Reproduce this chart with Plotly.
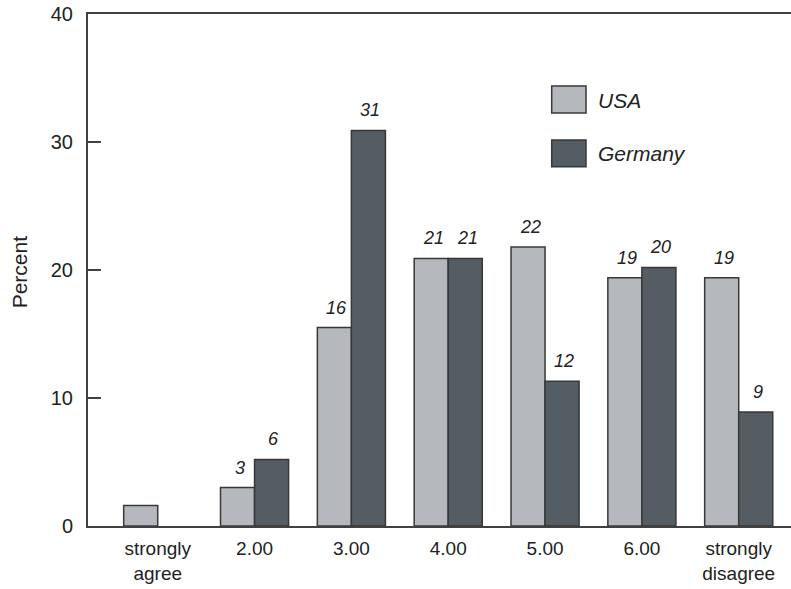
import plotly.graph_objects as go

categories = ["strongly<br>agree", "2.00", "3.00", "4.00", "5.00", "6.00", "strongly<br>disagree"]
usa_values = [1.6, 3.0, 15.5, 20.9, 21.8, 19.4, 19.4]
germany_values = [None, 5.2, 30.9, 20.9, 11.3, 20.2, 8.9]
usa_labels = ["", "3", "16", "21", "22", "19", "19"]
germany_labels = ["", "6", "31", "21", "12", "20", "9"]
y_ticks = [0, 10, 20, 30, 40]

USA_COLOR = "#b5b8bc"
GER_COLOR = "#535d63"
EDGE = "#383838"
FONT = "Liberation Sans, Arial, sans-serif"

fig = go.Figure()
fig.add_trace(go.Bar(name="USA", x=categories, y=usa_values,
                     marker=dict(color=USA_COLOR, line=dict(color=EDGE, width=1.5))))
fig.add_trace(go.Bar(name="Germany", x=categories, y=germany_values,
                     marker=dict(color=GER_COLOR, line=dict(color=EDGE, width=1.5))))

annotations = []
for i, (v, lab) in enumerate(zip(usa_values, usa_labels)):
    if lab:
        annotations.append(dict(x=i, y=v, text=lab, xref="x", yref="y", showarrow=False,
                                xanchor="center", yanchor="bottom", xshift=-15, yshift=8,
                                font=dict(family=FONT, size=18, color="#222", style="italic")))
for i, (v, lab) in enumerate(zip(germany_values, germany_labels)):
    if lab:
        annotations.append(dict(x=i, y=v, text=lab, xref="x", yref="y", showarrow=False,
                                xanchor="center", yanchor="bottom", xshift=19, yshift=8,
                                font=dict(family=FONT, size=18, color="#222", style="italic")))

# y-axis title
annotations.append(dict(x=-0.097, y=0.497, xref="paper", yref="paper", text="Percent",
                        textangle=-90, showarrow=False, xanchor="center", yanchor="middle",
                        font=dict(family=FONT, size=21, color="#222")))

# custom legend
shapes = []
legend_items = [("USA", USA_COLOR, 0.8066, 0.8594, 0.832),
                ("Germany", GER_COLOR, 0.7018, 0.7539, 0.7285)]
for name, col, y0, y1, yc in legend_items:
    shapes.append(dict(type="rect", xref="paper", yref="paper", x0=0.6596, x1=0.7084,
                       y0=y0, y1=y1, fillcolor=col, line=dict(color=EDGE, width=1.5)))
    annotations.append(dict(x=0.7226, y=yc, xref="paper", yref="paper", text=name,
                            showarrow=False, xanchor="left", yanchor="middle",
                            font=dict(family=FONT, size=21, color="#222", style="italic")))

fig.update_layout(
    width=791, height=589,
    margin=dict(l=88, r=0, t=14, b=63),
    paper_bgcolor="white", plot_bgcolor="white",
    barmode="group", bargap=0.297, bargroupgap=0,
    showlegend=False,
    font=dict(family=FONT, size=20, color="#222"),
    xaxis=dict(type="category", range=[-0.72, 6.54], showline=True, linecolor="#404040",
               linewidth=2, mirror=True, ticks="", showgrid=False, zeroline=False,
               tickfont=dict(family=FONT, size=19, color="#222"), ticklabelstandoff=4),
    yaxis=dict(range=[0, 40], tickvals=y_ticks, showline=True, linecolor="#404040",
               linewidth=2, ticks="inside", ticklen=13, tickwidth=2, tickcolor="#404040",
               showgrid=False, zeroline=False,
               tickfont=dict(family=FONT, size=20, color="#222"), ticklabelstandoff=9),
    annotations=annotations,
    shapes=shapes,
)

fig.write_html("out.html", config={"displayModeBar": False},
               post_script="document.body.style.margin='0';document.body.style.overflow='hidden';")
